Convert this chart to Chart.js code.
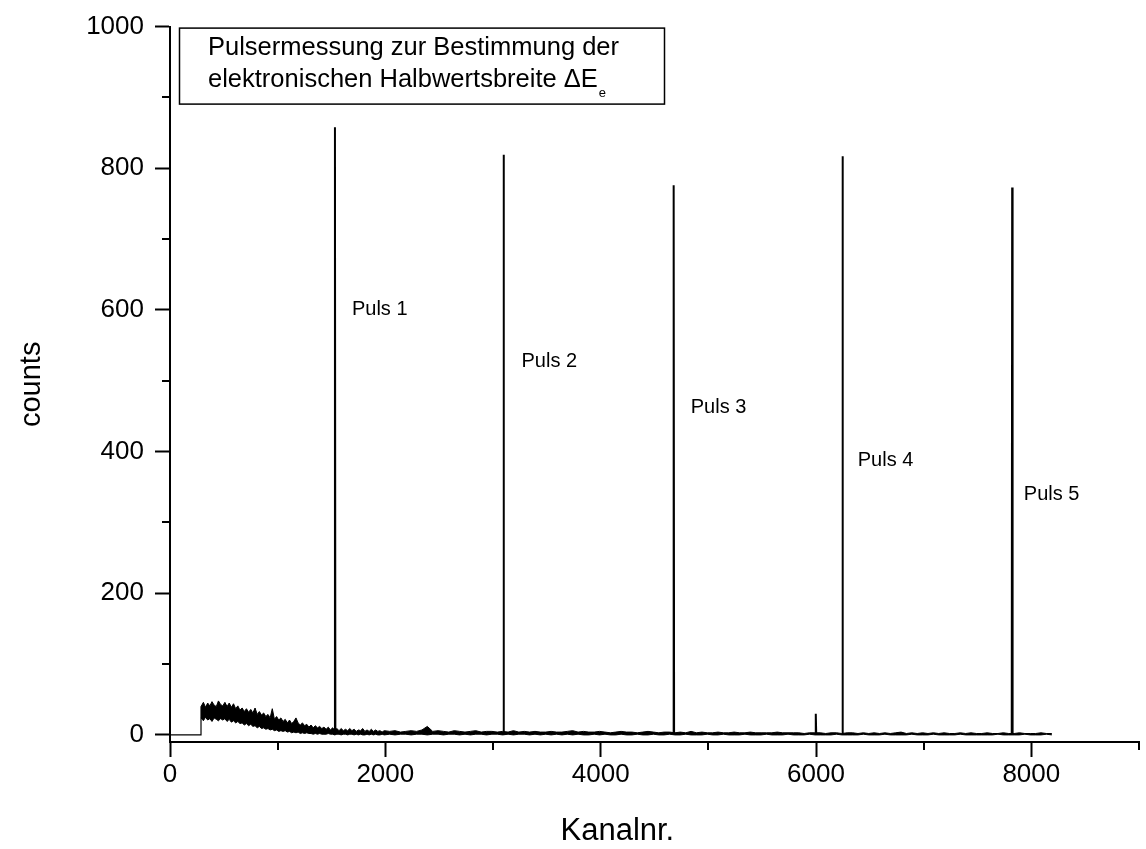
<!DOCTYPE html>
<html>
<head>
<meta charset="utf-8">
<title>Pulsermessung</title>
<script src="https://cdn.jsdelivr.net/npm/chart.js@4.4.1/dist/chart.umd.min.js"></script>
<style>
  html, body { margin: 0; padding: 0; background: #fff; }
  #wrap { width: 1146px; height: 849px; }
</style>
</head>
<body>
<div id="wrap"><canvas id="spektrum"></canvas></div>
<script>
// Schwelle: darunter keine Ereignisse
const schwelle = 288;

// Untergrund als Band (obere / untere Kante), Kanal 290..1990 in 20er Schritten
const startA = 290, schrittA = 20;
const obenA = [
  40, 46, 39, 45, 41, 47, 42, 40, 48, 43,
  41, 46, 40, 45, 39, 44, 37, 41, 35, 38,
  33, 37, 32, 36, 31, 38, 29, 33, 28, 31,
  26, 29, 24, 37, 22, 26, 21, 24, 19, 22,
  17, 21, 16, 19, 24, 17, 14, 17, 13, 15,
  11, 14, 10, 13, 10, 12, 9, 11, 8, 11,
  7, 10, 7, 9, 6, 9, 6, 8, 6, 9,
  6, 8, 5, 7, 6, 9, 5, 7, 5, 8,
  5, 7, 5, 6, 4, 6
];
const untenA = [
  24, 20, 25, 21, 23, 19, 24, 22, 20, 23,
  21, 23, 19, 22, 18, 20, 17, 19, 16, 17,
  14, 16, 13, 15, 12, 13, 10, 12, 9, 10,
  8, 9, 7, 8, 6, 7, 5, 6, 5, 6,
  4, 5, 3, 4, 3, 4, 2, 3, 2, 3,
  2, 2, 1, 2, 1, 2, 1, 1, 1, 2,
  1, 1, 0, 1, 1, 0, 1, 1, 0, 1,
  1, 0, 1, 0, 1, 0, 0, 1, 0, 1,
  0, 1, 0, 0, 1, 0
];

// Kanal 2040..8190 in 50er Schritten
const startB = 2040, schrittB = 50;
const obenB = [
  5, 6, 4, 5, 6, 5, 7, 12, 5, 6,
  5, 4, 6, 5, 4, 5, 6, 4, 5, 5,
  4, 5, 4, 6, 4, 5, 4, 5, 4, 4,
  5, 4, 4, 5, 6, 4, 5, 4, 4, 5,
  4, 3, 4, 5, 4, 4, 3, 4, 5, 4,
  3, 4, 4, 3, 4, 3, 5, 3, 4, 3,
  3, 4, 3, 3, 4, 3, 3, 4, 3, 3,
  3, 3, 4, 3, 3, 3, 3, 2, 3, 3,
  3, 2, 3, 3, 2, 3, 3, 2, 3, 2,
  3, 2, 3, 2, 3, 4, 2, 3, 2, 3,
  2, 3, 2, 3, 2, 2, 3, 2, 3, 2,
  2, 3, 2, 2, 3, 2, 2, 3, 2, 2,
  2, 3, 2, 2
];
const untenB = [
  1, 0, 1, 1, 0, 1, 1, 0, 1, 1,
  0, 1, 1, 0, 1, 0, 1, 1, 0, 1,
  1, 0, 1, 0, 1, 1, 0, 1, 0, 1,
  0, 1, 0, 1, 0, 1, 0, 0, 1, 0,
  1, 0, 0, 1, 0, 0, 1, 0, 0, 1,
  0, 0, 1, 0, 0, 1, 0, 0, 0, 1,
  0, 0, 1, 0, 0, 0, 1, 0, 0, 0,
  1, 0, 0, 0, 1, 0, 0, 0, 1, 0,
  0, 0, 0, 1, 0, 0, 0, 0, 1, 0,
  0, 0, 1, 0, 0, 0, 0, 1, 0, 0,
  0, 1, 0, 0, 0, 0, 1, 0, 0, 0,
  0, 0, 0, 1, 0, 0, 0, 0, 1, 0,
  0, 0, 1, 0
];

// Pulserlinien (Kanal, Hoehe) und kleiner Nebenpeak bei 6000
const pulsKanal = [1532, 3098, 4678, 6246, 7822, 5998];
const pulsHoehe = [858, 819, 776, 817, 773, 30];
const pulsBasis = 2;

// Beschriftung der Pulse (Kanal, counts)
const pulsNamen = ['Puls 1', 'Puls 2', 'Puls 3', 'Puls 4', 'Puls 5'];
const namenKanal = [1690, 3265, 4837, 6388, 7930];
const namenCounts = [601, 527, 462, 388, 340];

const xHaupt = [0, 2000, 4000, 6000, 8000];
const xNeben = [1000, 3000, 5000, 7000, 9000];
const yHaupt = [0, 200, 400, 600, 800, 1000];
const yNeben = [100, 300, 500, 700, 900];

const SCHRIFT = "'Liberation Sans', Arial, sans-serif";

// Punkte fuer die Datensaetze
const punkte = (start, schritt, werte) => werte.map((v, i) => ({ x: start + i * schritt, y: v }));
const oben = [{ x: schwelle, y: obenA[0] }, ...punkte(startA, schrittA, obenA), ...punkte(startB, schrittB, obenB)];
const unten = [{ x: schwelle, y: untenA[0] }, ...punkte(startA, schrittA, untenA), ...punkte(startB, schrittB, untenB)];
const leer = [{ x: 0, y: 0 }, { x: schwelle, y: 0 }, { x: schwelle, y: obenA[0] }];

// Pulse als schmale Spitzen, getrennt durch Luecken
const spitzen = [];
pulsKanal.forEach((k, i) => {
  spitzen.push({ x: k - 4, y: pulsBasis });
  spitzen.push({ x: k, y: pulsHoehe[i] });
  spitzen.push({ x: k + 4, y: pulsBasis });
  spitzen.push({ x: k + 5, y: null });
});

// kleine Striche zwischen den Hauptticks
const nebenTicks = {
  id: 'nebenTicks',
  afterDraw(chart) {
    const { ctx, chartArea, scales } = chart;
    ctx.save();
    ctx.strokeStyle = '#000';
    ctx.lineWidth = 2;
    yNeben.forEach(v => {
      const y = Math.round(scales.y.getPixelForValue(v));
      ctx.beginPath();
      ctx.moveTo(chartArea.left - 8, y);
      ctx.lineTo(chartArea.left, y);
      ctx.stroke();
    });
    xNeben.forEach(v => {
      const x = Math.round(scales.x.getPixelForValue(v));
      ctx.beginPath();
      ctx.moveTo(x, chartArea.bottom);
      ctx.lineTo(x, chartArea.bottom + 8);
      ctx.stroke();
    });
    ctx.restore();
  }
};

// Textkasten, Puls-Beschriftungen und x-Achsentitel
const beschriftung = {
  id: 'beschriftung',
  afterDraw(chart) {
    const { ctx, chartArea, scales } = chart;
    ctx.save();
    ctx.fillStyle = '#000';
    ctx.textBaseline = 'middle';
    ctx.textAlign = 'left';
    ctx.font = '20px ' + SCHRIFT;
    pulsNamen.forEach((t, i) => {
      ctx.fillText(t, scales.x.getPixelForValue(namenKanal[i]), scales.y.getPixelForValue(namenCounts[i]));
    });

    const bx = chartArea.left + 9, by = chartArea.top + 1;
    ctx.strokeStyle = '#000';
    ctx.lineWidth = 1.5;
    ctx.strokeRect(bx + 0.5, by + 0.5, 485, 76);

    ctx.textBaseline = 'alphabetic';
    ctx.font = '25.5px ' + SCHRIFT;
    ctx.fillText('Pulsermessung zur Bestimmung der', bx + 29, by + 27);
    const zeile2 = 'elektronischen Halbwertsbreite \u0394E';
    ctx.fillText(zeile2, bx + 29, by + 59);
    const w = ctx.measureText(zeile2).width;
    ctx.font = '13px ' + SCHRIFT;
    ctx.fillText('e', bx + 29 + w + 1, by + 69);

    ctx.font = '31px ' + SCHRIFT;
    ctx.textAlign = 'center';
    ctx.textBaseline = 'middle';
    ctx.fillText('Kanalnr.', scales.x.getPixelForValue(4155), chart.height - 18);
    ctx.restore();
  }
};

new Chart(document.getElementById('spektrum'), {
  type: 'line',
  data: {
    datasets: [
      {
        label: 'Untergrund oben',
        data: oben,
        borderColor: '#000',
        backgroundColor: '#000',
        borderWidth: 1,
        pointRadius: 0,
        tension: 0,
        fill: '+1'
      },
      {
        label: 'Untergrund unten',
        data: unten,
        borderColor: '#000',
        borderWidth: 1,
        pointRadius: 0,
        tension: 0
      },
      {
        label: 'unter Schwelle',
        data: leer,
        borderColor: '#000',
        borderWidth: 1.2,
        pointRadius: 0,
        tension: 0
      },
      {
        label: 'Pulse',
        data: spitzen,
        borderColor: '#000',
        borderWidth: 2,
        pointRadius: 0,
        tension: 0,
        spanGaps: false
      }
    ]
  },
  options: {
    responsive: true,
    maintainAspectRatio: false,
    animation: false,
    events: [],
    layout: { padding: { top: 24, right: 7, bottom: 0, left: 0 } },
    plugins: {
      legend: { display: false },
      tooltip: { enabled: false }
    },
    scales: {
      x: {
        type: 'linear',
        min: 0,
        max: 9000,
        afterBuildTicks: s => { s.ticks = xHaupt.map(v => ({ value: v })); },
        afterFit: s => { s.height = 107; },
        grid: { drawOnChartArea: false, drawTicks: true, tickLength: 15, tickWidth: 2, tickColor: '#000' },
        border: { display: true, color: '#000', width: 2 },
        ticks: {
          color: '#000',
          padding: 2,
          maxRotation: 0,
          font: { family: SCHRIFT, size: 26 },
          callback: v => String(v)
        }
      },
      y: {
        type: 'linear',
        min: -10,
        max: 1000,
        afterBuildTicks: s => { s.ticks = yHaupt.map(v => ({ value: v })); },
        afterFit: s => { s.width = 170; },
        grid: { drawOnChartArea: false, drawTicks: true, tickLength: 15, tickWidth: 2, tickColor: '#000' },
        border: { display: true, color: '#000', width: 2 },
        ticks: {
          color: '#000',
          padding: 11,
          font: { family: SCHRIFT, size: 26 },
          callback: v => String(v)
        },
        title: {
          display: true,
          text: 'counts',
          color: '#000',
          font: { family: SCHRIFT, size: 29 },
          padding: { top: 15, bottom: 0 }
        }
      }
    }
  },
  plugins: [nebenTicks, beschriftung]
});
</script>
</body>
</html>
